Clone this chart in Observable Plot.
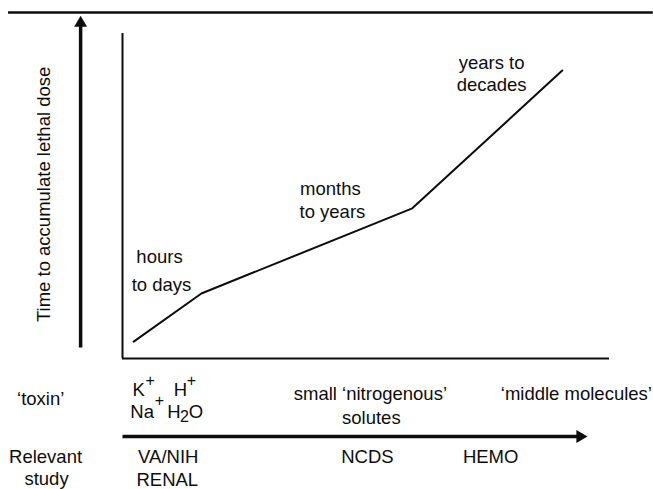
<!DOCTYPE html>
<html><head><meta charset="utf-8">
<script src="https://cdn.jsdelivr.net/npm/d3@7"></script>
<script src="https://cdn.jsdelivr.net/npm/@observablehq/plot@0.6"></script>
<style>body{margin:0;background:#fff} svg{display:block}</style>
</head><body><div id="chart"></div>
<script>
// Curve: x = solute size (0-100 across frame), y = time to lethal dose (0-100)
const curveX = [2.3, 16.2, 59.5, 90.3];
const curveY = [5.2, 20.0, 46.2, 88.6];

// Annotations along the curve
const noteText = ["hours", "to days", "months", "to years", "years to", "decades"];
const noteX = [7.6, 8.0, 42.7, 43.1, 75.8, 75.8];
const noteY = [29.5, 20.9, 50.2, 43.1, 89.2, 82.2];

// Rows below the chart ('toxin' and 'Relevant study')
const rowText = ["‘toxin’", "small ‘nitrogenous’", "solutes", "‘middle molecules’", "Relevant", "study", "VA/NIH", "RENAL", "NCDS", "HEMO"];
const rowX = [-16.8, 50.9, 51.1, 93.2, -15.8, -15.6, 9.4, 9.2, 50.3, 75.6];
const rowY = [-14.2, -12.9, -20.0, -12.9, -32.0, -38.8, -32.3, -39.1, -32.3, -32.3];

// Ions K+ H+ Na+ H2O
const ionText = ["K", "H", "Na", "H", "O"];
const ionX = [2.05, 10.5, 1.6, 9.2, 13.6];
const ionY = [-11.4, -11.4, -18.2, -18.2, -18.2];
const scriptText = ["+", "+", "+", "2"];
const scriptX = [4.7, 13.2, 6.6, 11.8];
const scriptY = [-8.6, -8.6, -14.6, -19.4];

const yLabel = "Time to accumulate lethal dose";
const yLabelPos = {x: -16.2, y: 50.5};

// Arrows and rules (in the same units)
const timeArrow = {x: -8.6, y1: 3.4, y2: 105.5};
const studyArrow = {y: -24.0, x1: 0, x2: 95.5};
const topRule = {y: 106.5, x1: -23.4, x2: 109};

const curve = curveX.map((x, i) => ({x, y: curveY[i]}));
const notes = noteText.map((t, i) => ({t, x: noteX[i], y: noteY[i]}));
const rows = rowText.map((t, i) => ({t, x: rowX[i], y: rowY[i]}));
const ions = ionText.map((t, i) => ({t, x: ionX[i], y: ionY[i]}));
const scripts = scriptText.map((t, i) => ({t, x: scriptX[i], y: scriptY[i]}));

const FONT = "'Liberation Sans', Arial, Helvetica, sans-serif";
const FS = 18.5;
const INK = "#0d0d0d";

const chart = Plot.plot({
  width: 653,
  height: 489,
  marginLeft: 122,
  marginRight: 44,
  marginTop: 33,
  marginBottom: 131,
  style: {fontFamily: FONT, background: "#fff", color: INK},
  x: {domain: [0, 100], axis: null},
  y: {domain: [0, 100], axis: null},
  marks: [
    // top rule
    Plot.ruleY([topRule.y], {x1: topRule.x1, x2: topRule.x2, stroke: INK, strokeWidth: 2.5}),
    // frame: left and bottom
    Plot.ruleX([0], {y1: 0, y2: 100, stroke: INK, strokeWidth: 2}),
    Plot.ruleY([0], {x1: 0, x2: 100, stroke: INK, strokeWidth: 2}),
    // curve
    Plot.line(curve, {x: "x", y: "y", stroke: INK, strokeWidth: 2, strokeLinejoin: "miter"}),
    // vertical time arrow
    Plot.link([timeArrow], {x1: "x", x2: "x", y1: "y1", y2: d => d.y2 - 1.8, stroke: INK, strokeWidth: 3.5}),
    Plot.dot([timeArrow], {x: "x", y: "y2", symbol: "triangle", r: 4.8, fill: INK, stroke: "none", dy: 7.5}),
    // horizontal study arrow
    Plot.link([studyArrow], {x1: "x1", x2: d => d.x2 - 1.2, y1: "y", y2: "y", stroke: INK, strokeWidth: 3.5}),
    Plot.dot([studyArrow], {x: "x2", y: "y", symbol: "triangle", r: 4.8, rotate: 90, fill: INK, stroke: "none", dx: -7.5}),
    // y label
    Plot.text([yLabel], {x: () => yLabelPos.x, y: () => yLabelPos.y, text: d => d, rotate: -90, fontSize: FS, fill: INK, lineAnchor: "middle"}),
    // notes
    Plot.text(notes, {x: "x", y: "y", text: "t", fontSize: FS, fill: INK, lineAnchor: "bottom"}),
    Plot.text(rows, {x: "x", y: "y", text: "t", fontSize: FS, fill: INK, lineAnchor: "bottom"}),
    Plot.text(ions, {x: "x", y: "y", text: "t", fontSize: FS, fill: INK, lineAnchor: "bottom", textAnchor: "start"}),
    Plot.text(scripts, {x: "x", y: "y", text: "t", fontSize: 16, fill: INK, lineAnchor: "bottom", textAnchor: "start"})
  ]
});
document.getElementById("chart").appendChild(chart);
</script>
</body></html>
